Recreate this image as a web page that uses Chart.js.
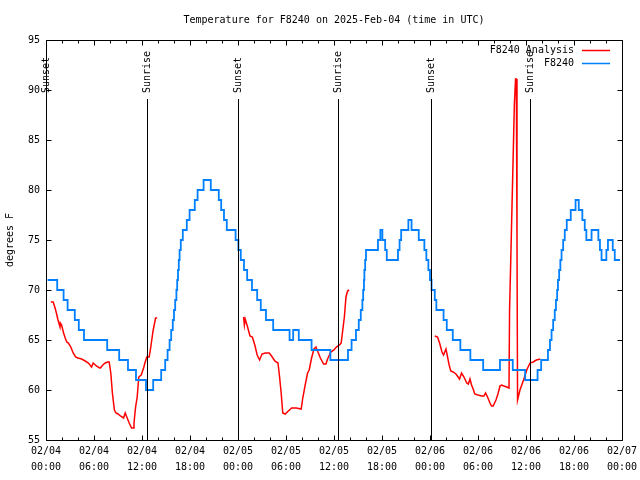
<!DOCTYPE html>
<html>
<head>
<meta charset="utf-8">
<script src="https://cdn.jsdelivr.net/npm/chart.js@4"></script>
<style>
  html, body { margin: 0; padding: 0; background: #fff; }
  canvas { display: block; }
</style>
</head>
<body>
<canvas id="chart" width="640" height="480"></canvas>
<script>
// hours since 02/04 00:00 UTC
const xTickLabels = [
    ['02/04', '00:00'], ['02/04', '06:00'], ['02/04', '12:00'], ['02/04', '18:00'],
    ['02/05', '00:00'], ['02/05', '06:00'], ['02/05', '12:00'], ['02/05', '18:00'],
    ['02/06', '00:00'], ['02/06', '06:00'], ['02/06', '12:00'], ['02/06', '18:00'],
    ['02/07', '00:00']
];

// F8240 station readings (change points, value held until next point)
const stationHours = [
    0.2, 1.4, 2.2, 2.7, 3.6, 4.1, 4.75, 7.65, 9.15, 10.25, 11.25, 12.5, 13.4,
    14.4, 14.9, 15.2, 15.45, 15.65, 15.85, 16.0, 16.15, 16.3, 16.4, 16.5, 16.6, 16.7, 16.85,
    17.1, 17.6, 17.95, 18.6, 18.95, 19.7, 20.6, 21.6, 21.9, 22.25, 22.6, 23.7,
    24.05, 24.35, 24.75, 25.15, 25.75, 26.4, 26.85, 27.5, 28.4, 30.45, 30.9, 31.6,
    33.2, 35.55, 37.75, 38.2, 38.75, 39.1, 39.35, 39.55, 39.65, 39.75, 39.8, 39.9,
    40.0, 41.5, 41.8, 42.05, 42.4, 42.6, 44.0, 44.2, 44.4, 45.3, 45.7, 46.6, 47.3,
    47.55, 47.8, 48.0, 48.2, 48.6, 48.8, 49.7, 50.1, 50.85, 51.8, 53.05, 54.65,
    56.75, 58.35, 59.9, 61.45, 61.9, 62.75, 63.0, 63.2, 63.4, 63.6, 63.75, 63.9,
    64.0, 64.15, 64.3, 64.45, 64.65, 64.85, 65.1, 65.6, 66.2, 66.6, 67.05, 67.35,
    67.55, 68.2, 69.05, 69.25, 69.45, 70.05, 70.25, 70.85, 71.1, 71.75
];
const stationTemps = [
    71, 70, 69, 68, 67, 66, 65, 64, 63, 62, 61, 60, 61,
    62, 63, 64, 65, 66, 67, 68, 69, 70, 71, 72, 73, 74, 75,
    76, 77, 78, 79, 80, 81, 80, 79, 78, 77, 76, 75,
    74, 73, 72, 71, 70, 69, 68, 67, 66, 65, 66, 65,
    64, 63, 64, 65, 66, 67, 68, 69, 70, 71, 72, 73,
    74, 75, 76, 75, 74, 73, 74, 75, 76, 77, 76, 75, 74,
    73, 72, 71, 70, 69, 68, 67, 66, 65, 64, 63, 62,
    63, 62, 61, 62, 63, 64, 65, 66, 67, 68, 69, 70,
    71, 72, 73, 74, 75, 76, 77, 78, 79, 78, 77, 76,
    75, 76, 75, 74, 73, 74, 75, 74, 73, 73
];

// F8240 Analysis (null = gap)
const analysisHours = [
    0.6, 0.9, 1.1, 1.3, 1.5, 1.75, 1.8, 1.95, 2.2, 2.4, 2.6, 2.8, 3.1, 3.4, 3.7, 4.0,
    4.45, 4.9, 5.3, 5.7, 5.9, 6.3, 6.7, 6.8, 7.1, 7.4, 7.7, 7.9, 8.1, 8.3, 8.55, 8.75,
    9.0, 9.3, 9.7, 9.9, 10.1, 10.4, 10.7, 10.9, 11.0, 11.2, 11.4, 11.6, 11.9, 12.2,
    12.4, 12.6, 12.9, 13.1, 13.4, 13.7, 13.9,
    19.0,
    24.7, 24.8, 24.9, 25.2, 25.5, 25.8, 26.1, 26.4, 26.7, 27.0, 27.4, 27.9, 28.2, 28.6,
    29.0, 29.2, 29.4, 29.6, 29.9, 30.3, 30.7, 31.3, 31.9, 32.1, 32.4, 32.7, 32.9, 33.2,
    33.5, 33.75, 34.0, 34.3, 34.7, 35.0, 35.2, 35.6, 36.0, 36.3, 36.7, 36.9, 37.1, 37.3,
    37.5, 37.7, 37.9,
    43.0,
    48.6, 48.95, 49.2, 49.5, 49.7, 50.0, 50.2, 50.4, 50.6, 50.9, 51.25, 51.7, 51.95,
    52.25, 52.6, 52.8, 53.0, 53.2, 53.4, 53.6, 54.0, 54.45, 54.75, 54.95, 55.2, 55.5,
    55.7, 55.9, 56.25, 56.5, 56.75, 56.95, 57.25, 57.6, 57.88, 57.95, 58.1, 58.25,
    58.4, 58.55, 58.7, 58.8, 58.88, 58.95, 59.25, 59.7, 60.1, 60.5, 60.9, 61.3, 61.8
];
const analysisTemps = [
    68.8, 68.8, 68.3, 67.7, 67.0, 66.3, 66.7, 66.5, 65.7, 65.2, 64.8, 64.7, 64.3, 63.7, 63.3, 63.2,
    63.1, 62.9, 62.7, 62.3, 62.7, 62.4, 62.2, 62.2, 62.5, 62.7, 62.8, 62.8, 61.7, 59.7, 58.0, 57.7,
    57.6, 57.4, 57.2, 57.7, 57.3, 56.7, 56.2, 56.2, 56.7, 58.3, 59.3, 61.3, 61.5, 62.2,
    62.8, 63.3, 63.3, 64.3, 66.0, 67.2, 67.2,
    null,
    67.3, 66.5, 67.1, 66.3, 65.4, 65.3, 64.5, 63.5, 63.0, 63.6, 63.7, 63.7, 63.4, 62.9,
    62.7, 61.3, 59.7, 57.7, 57.6, 57.9, 58.2, 58.2, 58.1, 59.2, 60.5, 61.7, 62.0, 63.2,
    64.1, 64.3, 63.8, 63.2, 62.6, 62.6, 63.1, 63.8, 64.0, 64.3, 64.5, 64.7, 66.0, 67.3,
    69.3, 69.9, 70.0,
    null,
    65.4, 65.3, 64.7, 63.8, 63.5, 64.1, 63.3, 62.5, 61.9, 61.8, 61.6, 61.1, 61.7,
    61.3, 60.7, 60.6, 61.1, 60.5, 60.1, 59.6, 59.5, 59.4, 59.4, 59.7, 59.3, 58.7,
    58.4, 58.4, 59.0, 59.6, 60.4, 60.5, 60.4, 60.3, 60.2, 68.0, 73.0, 78.2,
    83.3, 88.5, 91.1, 91.1, 75.0, 59.0, 60.0, 61.0, 62.0, 62.7, 62.8, 63.0, 63.1
];

// sunrise / sunset markers
const eventHours = [0.0, 12.65, 24.05, 36.55, 48.1, 60.55];
const eventLabels = ['Sunset', 'Sunrise', 'Sunset', 'Sunrise', 'Sunset', 'Sunrise'];
const eventTop = 89.1;

const titleText = 'Temperature for F8240 on 2025-Feb-04 (time in UTC)';
const yTitle = 'degrees F';
const seriesNames = ['F8240 Analysis', 'F8240'];
const seriesColors = ['#ff0000', '#0080ff'];

const FONT = '"DejaVu Sans Mono", "Liberation Mono", monospace';

function toPoints(xs, ys) {
    return xs.map((x, i) => ({ x: x, y: ys[i] }));
}

// рамка, засечки, восход/закат, легенда, подписи
const gnuplotDecor = {
    id: 'gnuplotDecor',
    afterDraw(chart) {
        const ctx = chart.ctx;
        const a = chart.chartArea;
        const xs = chart.scales.x;
        const ys = chart.scales.y;
        const L = Math.round(a.left) + 0.5, R = Math.round(a.right) + 0.5;
        const T = Math.round(a.top) + 0.5, B = Math.round(a.bottom) + 0.5;

        ctx.save();
        ctx.strokeStyle = '#000';
        ctx.lineWidth = 1;

        // sunrise/sunset lines
        ctx.font = '10px ' + FONT;
        ctx.fillStyle = '#000';
        eventHours.forEach((h, i) => {
            const px = Math.round(xs.getPixelForValue(h)) + 0.5;
            const top = Math.round(ys.getPixelForValue(eventTop));
            ctx.beginPath();
            ctx.moveTo(px, top);
            ctx.lineTo(px, B);
            ctx.stroke();
            ctx.save();
            ctx.translate(px, top - 6);
            ctx.rotate(-Math.PI / 2);
            ctx.textAlign = 'left';
            ctx.textBaseline = 'middle';
            ctx.fillText(eventLabels[i], 0, 0);
            ctx.restore();
        });

        // border
        ctx.beginPath();
        ctx.rect(L, T, R - L, B - T);
        ctx.stroke();

        // x ticks (major 6h, minor 2h), mirrored on top
        ctx.beginPath();
        for (let h = 0; h <= 72; h += 2) {
            const px = Math.round(xs.getPixelForValue(h)) + 0.5;
            const len = (h % 6 === 0) ? 5 : 3;
            ctx.moveTo(px, B); ctx.lineTo(px, B - len);
            ctx.moveTo(px, T); ctx.lineTo(px, T + len);
        }
        // y ticks, mirrored on right
        for (let v = 55; v <= 95; v += 5) {
            const py = Math.round(ys.getPixelForValue(v)) + 0.5;
            ctx.moveTo(L, py); ctx.lineTo(L + 5, py);
            ctx.moveTo(R, py); ctx.lineTo(R - 5, py);
        }
        ctx.stroke();

        // title
        ctx.font = '10px ' + FONT;
        ctx.textAlign = 'center';
        ctx.textBaseline = 'middle';
        ctx.fillText(titleText, (a.left + a.right) / 2, 20);

        // y axis title
        ctx.save();
        ctx.translate(10, (a.top + a.bottom) / 2);
        ctx.rotate(-Math.PI / 2);
        ctx.fillText(yTitle, 0, 0);
        ctx.restore();

        // legend
        ctx.textAlign = 'right';
        seriesNames.forEach((name, i) => {
            const y = 50 + i * 13;
            ctx.fillStyle = '#000';
            ctx.fillText(name, 574, y);
            ctx.strokeStyle = seriesColors[i];
            ctx.lineWidth = 1.5;
            ctx.beginPath();
            ctx.moveTo(582, y + 0.5);
            ctx.lineTo(610, y + 0.5);
            ctx.stroke();
        });
        ctx.restore();
    }
};

new Chart(document.getElementById('chart').getContext('2d'), {
    type: 'line',
    data: {
        datasets: [
            {
                label: seriesNames[0],
                data: toPoints(analysisHours, analysisTemps),
                borderColor: seriesColors[0],
                borderWidth: 1.5,
                pointRadius: 0,
                tension: 0,
                spanGaps: false,
                order: 2
            },
            {
                label: seriesNames[1],
                data: toPoints(stationHours, stationTemps),
                borderColor: seriesColors[1],
                borderWidth: 1.8,
                pointRadius: 0,
                stepped: true,
                order: 1
            }
        ]
    },
    options: {
        responsive: false,
        animation: false,
        devicePixelRatio: 1,
        events: [],
        layout: { padding: { top: 40, right: 18, left: 0, bottom: 0 } },
        plugins: {
            legend: { display: false },
            title: { display: false },
            tooltip: { enabled: false }
        },
        scales: {
            x: {
                type: 'linear',
                min: 0,
                max: 72,
                grid: { display: false, drawTicks: false },
                border: { display: false },
                ticks: {
                    stepSize: 6,
                    autoSkip: false,
                    maxRotation: 0,
                    padding: 3,
                    color: '#000',
                    font: { family: FONT, size: 10, lineHeight: 1.6 },
                    callback: (v) => xTickLabels[Math.round(v / 6)]
                },
                afterFit: (s) => { s.height = 40; }
            },
            y: {
                min: 55,
                max: 95,
                grid: { display: false, drawTicks: false },
                border: { display: false },
                ticks: {
                    stepSize: 5,
                    padding: 6,
                    color: '#000',
                    font: { family: FONT, size: 10 }
                },
                afterFit: (s) => { s.width = 46; }
            }
        }
    },
    plugins: [gnuplotDecor]
});
</script>
</body>
</html>
